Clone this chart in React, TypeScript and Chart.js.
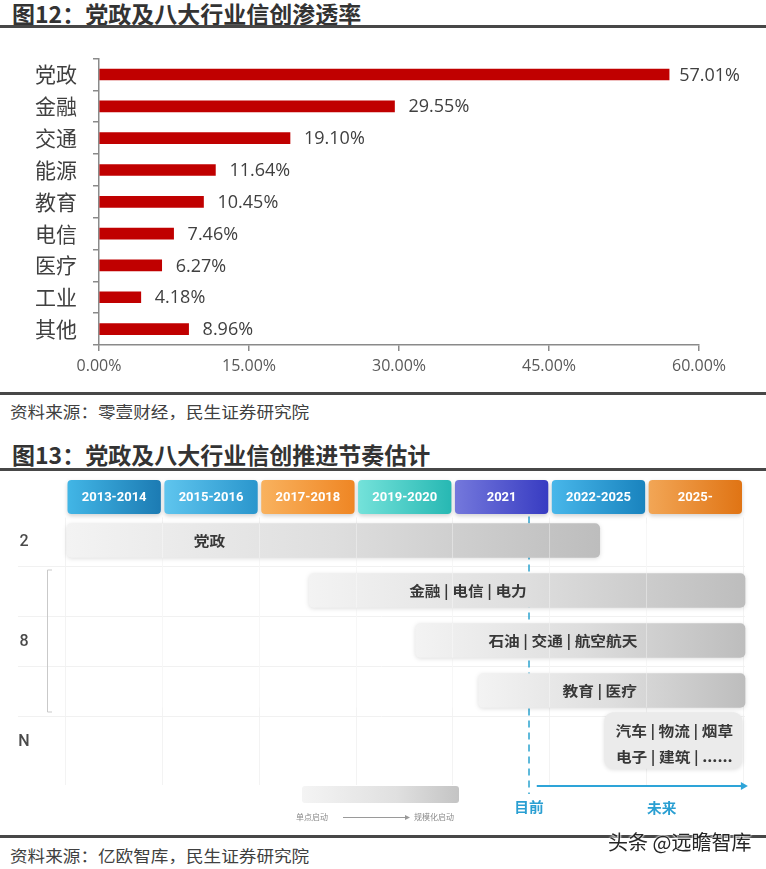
import React, { useEffect, useRef } from 'react';
import { Chart, registerables } from 'chart.js';
Chart.register(...registerables);

// ---------- Figure 12 data ----------
const categories = ['党政', '金融', '交通', '能源', '教育', '电信', '医疗', '工业', '其他'];
const penetration = [57.01, 29.55, 19.1, 11.64, 10.45, 7.46, 6.27, 4.18, 8.96];
const axisMax = 60;
const axisStep = 15;

// ---------- Figure 13 data ----------
const periods = ['2013-2014', '2015-2016', '2017-2018', '2019-2020', '2021', '2022-2025', '2025-'];
const rowLabels = ['党政', '金融 | 电信 | 电力', '石油 | 交通 | 航空航天', '教育 | 医疗', '汽车 | 物流 | 烟草\n电子 | 建筑 | ......'];
const rowStart = [0, 2.5, 3.6, 4.25, 5.55];
const rowEnd = [5.5, 7, 7, 7, 6.97];
const rowLabelAt = [1.47, 4.14, 5.12, 5.5, 6.27];
const groupLabels = ['2', '8', 'N'];
const groupFirstRow = [0, 1, 4];
const groupLastRow = [0, 3, 4];
const nowAt = 4.77;
const futureFrom = 4.85;
const futureTo = 7.03;
const futureLabelAt = 6.14;
const nowLabel = '目前';
const futureLabel = '未来';
const legendFrom = '单点启动';
const legendTo = '规模化启动';

const LATIN = "'Open Sans', 'Noto Sans CJK SC', sans-serif";
const CJK = "'Noto Sans CJK SC', 'Noto Sans', sans-serif";

const periodColors = [
  ['#42b6e6', '#1c7bb3'],
  ['#5fc5ee', '#2a96cd'],
  ['#f9b25e', '#ef8624'],
  ['#74e2da', '#27b8b3'],
  ['#7478dc', '#383cc2'],
  ['#48b7ea', '#1983be'],
  ['#f2a656', '#e07414'],
];

const CANVAS2_TOP = 470;

function stretchText(ctx: CanvasRenderingContext2D, text: string, x: number, y: number, sx: number) {
  ctx.save();
  ctx.translate(x, y);
  ctx.scale(sx, 1);
  ctx.fillText(text, 0, 0);
  ctx.restore();
}

const valueLabels = {
  id: 'valueLabels',
  afterDatasetsDraw(chart: any) {
    const ctx = chart.ctx;
    const meta = chart.getDatasetMeta(0);
    ctx.save();
    ctx.font = `18px ${LATIN}`;
    ctx.fillStyle = '#404040';
    ctx.textBaseline = 'middle';
    ctx.textAlign = 'left';
    meta.data.forEach((bar: any, i: number) => {
      const t = penetration[i].toFixed(2) + '%';
      const w = ctx.measureText(t).width;
      const x = Math.min(bar.x + 14, 740 - w);
      ctx.fillText(t, x, bar.y + 1);
    });
    ctx.restore();
  },
};

const ganttDecor = {
  id: 'ganttDecor',
  beforeDatasetsDraw(chart: any) {
    const { ctx, chartArea: ca, scales } = chart;
    const xs = scales.x;
    const ys = scales.y;
    const px = (v: number) => xs.getPixelForValue(v);
    const rowY = (i: number) => ys.getPixelForValue(i);
    const rowH = rowY(1) - rowY(0);
    ctx.save();
    // faint grid
    ctx.strokeStyle = '#f3f3f3';
    ctx.lineWidth = 1;
    for (let i = 0; i <= periods.length; i++) {
      const x = Math.round(px(i)) - 1.5;
      ctx.beginPath();
      ctx.moveTo(x, ca.top + 2);
      ctx.lineTo(x, 785 - CANVAS2_TOP);
      ctx.stroke();
    }
    ctx.strokeStyle = '#f1f1f1';
    for (let r = 0; r < rowLabels.length - 1; r++) {
      const y = Math.round(rowY(r) + rowH / 2) + 0.5;
      ctx.beginPath();
      ctx.moveTo(18, y);
      ctx.lineTo(px(periods.length), y);
      ctx.stroke();
    }
    // dashed "now" line
    ctx.strokeStyle = '#2ba3cf';
    ctx.lineWidth = 1.5;
    ctx.setLineDash([7, 5]);
    const nx = px(nowAt);
    ctx.beginPath();
    ctx.moveTo(nx, ca.top + 1);
    ctx.lineTo(nx, 794 - CANVAS2_TOP);
    ctx.stroke();
    ctx.setLineDash([]);
    // header boxes
    const hTop = 480 - CANVAS2_TOP;
    const hH = 34;
    periods.forEach((p, i) => {
      const x0 = px(i) + 0.5;
      const x1 = px(i + 1) - 3;
      const g = ctx.createLinearGradient(x0, 0, x1, 0);
      g.addColorStop(0, periodColors[i][0]);
      g.addColorStop(1, periodColors[i][1]);
      ctx.save();
      ctx.shadowColor = 'rgba(0,0,0,0.18)';
      ctx.shadowBlur = 4;
      ctx.shadowOffsetY = 2;
      ctx.fillStyle = g;
      ctx.beginPath();
      ctx.roundRect(x0, hTop, x1 - x0, hH, 4);
      ctx.fill();
      ctx.restore();
      ctx.fillStyle = '#ffffff';
      ctx.font = `bold 13px Roboto, ${CJK}`;
      ctx.textAlign = 'center';
      ctx.textBaseline = 'middle';
      ctx.fillText(p, (x0 + x1) / 2, hTop + hH / 2 + 1);
    });
    ctx.restore();
  },
  beforeDatasetDraw(chart: any) {
    const ctx = chart.ctx;
    ctx.save();
    ctx.shadowColor = 'rgba(0,0,0,0.13)';
    ctx.shadowBlur = 4;
    ctx.shadowOffsetY = 1;
  },
  afterDatasetDraw(chart: any) {
    chart.ctx.restore();
  },
  afterDatasetsDraw(chart: any) {
    const { ctx, scales } = chart;
    const xs = scales.x;
    const ys = scales.y;
    const px = (v: number) => xs.getPixelForValue(v);
    const rowY = (i: number) => ys.getPixelForValue(i);
    const rowH = rowY(1) - rowY(0);
    ctx.save();
    // lighter column lines through the bars
    ctx.strokeStyle = 'rgba(255,255,255,0.35)';
    ctx.lineWidth = 1;
    for (let i = 1; i < periods.length; i++) {
      const x = Math.round(px(i)) - 1.5;
      ctx.beginPath();
      ctx.moveTo(x, rowY(0) - 17);
      ctx.lineTo(x, rowY(3) + 17);
      ctx.stroke();
    }
    // bar texts
    ctx.fillStyle = '#383838';
    ctx.font = `bold 14px ${CJK}`;
    ctx.textAlign = 'center';
    ctx.textBaseline = 'middle';
    rowLabels.forEach((label, i) => {
      const lines = label.split('\n');
      const x = px(rowLabelAt[i]);
      const y = rowY(i) + (lines.length > 1 ? 3 : 0);
      const lh = 26;
      lines.forEach((ln, k) => {
        const yy = y + (k - (lines.length - 1) / 2) * lh;
        stretchText(ctx, ln, x, yy, 1.12);
      });
    });
    // group labels and bracket
    ctx.fillStyle = '#4a4a4a';
    ctx.font = `500 16px Roboto, ${CJK}`;
    groupLabels.forEach((g, k) => {
      const y = (rowY(groupFirstRow[k]) + rowY(groupLastRow[k])) / 2;
      ctx.fillText(g, 24, y + 1);
      if (groupLastRow[k] > groupFirstRow[k]) {
        const y0 = rowY(groupFirstRow[k]) - rowH / 2 + 4;
        const y1 = rowY(groupLastRow[k]) + rowH / 2 - 4;
        ctx.strokeStyle = '#c9c9c9';
        ctx.lineWidth = 1;
        ctx.beginPath();
        ctx.moveTo(52, y0 + 0.5);
        ctx.lineTo(47.5, y0 + 0.5);
        ctx.lineTo(47.5, y1 + 0.5);
        ctx.lineTo(52, y1 + 0.5);
        ctx.stroke();
      }
    });
    // future arrow
    const ay = 786 - CANVAS2_TOP;
    const ax0 = px(futureFrom);
    const ax1 = px(futureTo);
    ctx.strokeStyle = '#2ea4d8';
    ctx.fillStyle = '#2ea4d8';
    ctx.lineWidth = 2;
    ctx.beginPath();
    ctx.moveTo(ax0, ay);
    ctx.lineTo(ax1 - 5, ay);
    ctx.stroke();
    ctx.beginPath();
    ctx.moveTo(ax1, ay);
    ctx.lineTo(ax1 - 7, ay - 4);
    ctx.lineTo(ax1 - 7, ay + 4);
    ctx.closePath();
    ctx.fill();
    // now / future labels
    ctx.fillStyle = '#2a9fd2';
    ctx.font = `bold 14px ${CJK}`;
    ctx.textAlign = 'center';
    stretchText(ctx, nowLabel, px(nowAt), 807 - CANVAS2_TOP, 1.05);
    stretchText(ctx, futureLabel, px(futureLabelAt), 808 - CANVAS2_TOP, 1.05);
    // legend gradient box
    const lx0 = 302;
    const lx1 = 459;
    const ly = 786 - CANVAS2_TOP;
    const lg = ctx.createLinearGradient(lx0, 0, lx1, 0);
    lg.addColorStop(0, '#f4f4f4');
    lg.addColorStop(0.6, '#e0e0e0');
    lg.addColorStop(1, '#c4c4c4');
    ctx.fillStyle = lg;
    ctx.beginPath();
    ctx.roundRect(lx0, ly, lx1 - lx0, 17, 3);
    ctx.fill();
    ctx.fillStyle = '#8a8a8a';
    ctx.font = `8px ${CJK}`;
    ctx.textAlign = 'left';
    const ty = 817 - CANVAS2_TOP;
    ctx.fillText(legendFrom, 296, ty);
    ctx.fillText(legendTo, 414, ty);
    ctx.strokeStyle = '#9a9a9a';
    ctx.fillStyle = '#9a9a9a';
    ctx.lineWidth = 1;
    ctx.beginPath();
    ctx.moveTo(343, ty + 0.5);
    ctx.lineTo(406, ty + 0.5);
    ctx.stroke();
    ctx.beginPath();
    ctx.moveTo(410, ty + 0.5);
    ctx.lineTo(405, ty - 2);
    ctx.lineTo(405, ty + 3);
    ctx.closePath();
    ctx.fill();
    ctx.restore();
  },
};

export default function App() {
  const c1 = useRef<HTMLCanvasElement>(null);
  const c2 = useRef<HTMLCanvasElement>(null);

  useEffect(() => {
    const ch1 = new Chart(c1.current as HTMLCanvasElement, {
      type: 'bar',
      data: {
        labels: categories,
        datasets: [
          {
            data: penetration,
            backgroundColor: '#c00000',
            barThickness: 11,
          },
        ],
      },
      options: {
        indexAxis: 'y',
        animation: false,
        responsive: false,
        devicePixelRatio: 1,
        layout: { padding: { top: 27, right: 67, left: 0, bottom: 0 } },
        plugins: { legend: { display: false }, tooltip: { enabled: false } },
        scales: {
          x: {
            type: 'linear',
            min: 0,
            max: axisMax,
            ticks: {
              stepSize: axisStep,
              callback: (v: any) => Number(v).toFixed(2) + '%',
              font: { size: 16, family: LATIN },
              color: '#595959',
              padding: 6,
              maxRotation: 0,
            },
            grid: { drawOnChartArea: false, tickLength: 6, color: '#8a8a8a', lineWidth: 1.5 },
            border: { color: '#8a8a8a', width: 1.5 },
            afterFit: (s: any) => {
              s.height = 45;
            },
          },
          y: {
            ticks: { font: { size: 21, family: CJK }, color: '#404040', padding: 16 },
            grid: { offset: true, drawOnChartArea: false, tickLength: 6, color: '#8a8a8a', lineWidth: 1.5 },
            border: { color: '#8a8a8a', width: 1.5 },
            afterFit: (s: any) => {
              s.width = 99;
            },
          },
        },
      } as any,
      plugins: [valueLabels],
    });

    const barFill = (c: any) => {
      const chart = c.chart;
      const xs = chart.scales && chart.scales.x;
      const i = c.dataIndex;
      if (!xs || c.type !== 'data' || i === undefined || i === null) return '#d9d9d9';
      const x0 = xs.getPixelForValue(rowStart[i]);
      const x1 = xs.getPixelForValue(rowEnd[i]);
      if (!Number.isFinite(x0) || !Number.isFinite(x1) || x1 <= x0) return '#d9d9d9';
      const g = chart.ctx.createLinearGradient(x0, 0, x1, 0);
      g.addColorStop(0, '#f3f3f3');
      g.addColorStop(0.5, '#dedede');
      g.addColorStop(1, '#bdbdbd');
      return g;
    };

    const ch2 = new Chart(c2.current as HTMLCanvasElement, {
      type: 'bar',
      data: {
        labels: rowLabels,
        datasets: [
          {
            data: rowStart.map((s, i) => (i < 4 ? [s, rowEnd[i]] : null)) as any,
            backgroundColor: barFill,
            barThickness: 34,
            borderRadius: 5,
            borderSkipped: false,
            grouped: false,
            clip: false,
          } as any,
          {
            data: rowStart.map((s, i) => (i === 4 ? [s, rowEnd[i]] : null)) as any,
            backgroundColor: '#ebebeb',
            barThickness: 56,
            borderRadius: 9,
            borderSkipped: false,
            grouped: false,
            clip: false,
          } as any,
        ],
      },
      options: {
        indexAxis: 'y',
        animation: false,
        responsive: false,
        devicePixelRatio: 1,
        layout: { padding: { top: 45.5, right: 21, left: 67, bottom: 70.5 } },
        plugins: { legend: { display: false }, tooltip: { enabled: false } },
        scales: {
          x: { type: 'linear', min: 0, max: periods.length, display: false },
          y: { type: 'category', display: false, offset: true },
        },
      } as any,
      plugins: [ganttDecor],
    });

    return () => {
      ch1.destroy();
      ch2.destroy();
    };
  }, []);

  const line = (top: number) => (
    <div style={{ position: 'absolute', left: 0, top, width: 766, height: 3, background: '#474747' }} />
  );

  return (
    <div
      style={{
        position: 'absolute',
        left: 0,
        top: 0,
        width: 766,
        height: 869,
        background: '#ffffff',
        overflow: 'hidden',
        fontFamily: CJK,
      }}
    >
      <div
        style={{
          position: 'absolute',
          left: 12,
          top: 0,
          height: 26,
          lineHeight: '26px',
          fontSize: 23,
          fontWeight: 700,
          color: '#333333',
          whiteSpace: 'nowrap',
        }}
      >
        图12：党政及八大行业信创渗透率
      </div>
      {line(25)}
      <canvas
        ref={c1}
        width={766}
        height={360}
        style={{ position: 'absolute', left: 0, top: 30, width: 766, height: 360 }}
      />
      {line(392)}
      <div
        style={{
          position: 'absolute',
          left: 10,
          top: 401,
          height: 20,
          lineHeight: '20px',
          fontSize: 16,
          color: '#404040',
          whiteSpace: 'nowrap',
          transform: 'scaleX(1.1)',
          transformOrigin: 'left center',
        }}
      >
        资料来源：零壹财经，民生证券研究院
      </div>
      <div
        style={{
          position: 'absolute',
          left: 12,
          top: 441,
          height: 26,
          lineHeight: '26px',
          fontSize: 23,
          fontWeight: 700,
          color: '#333333',
          whiteSpace: 'nowrap',
        }}
      >
        图13：党政及八大行业信创推进节奏估计
      </div>
      {line(468)}
      <canvas
        ref={c2}
        width={766}
        height={366}
        style={{ position: 'absolute', left: 0, top: CANVAS2_TOP, width: 766, height: 366 }}
      />
      {line(835)}
      <div
        style={{
          position: 'absolute',
          left: 10,
          top: 845,
          height: 20,
          lineHeight: '20px',
          fontSize: 16,
          color: '#404040',
          whiteSpace: 'nowrap',
          transform: 'scaleX(1.1)',
          transformOrigin: 'left center',
        }}
      >
        资料来源：亿欧智库，民生证券研究院
      </div>
      <div
        style={{
          position: 'absolute',
          left: 608,
          top: 829,
          height: 26,
          lineHeight: '26px',
          fontSize: 20,
          color: '#262626',
          whiteSpace: 'nowrap',
          textShadow: '0 0 2px #fff, 0 0 2px #fff, 0 0 3px #fff',
        }}
      >
        头条 @远瞻智库
      </div>
    </div>
  );
}
